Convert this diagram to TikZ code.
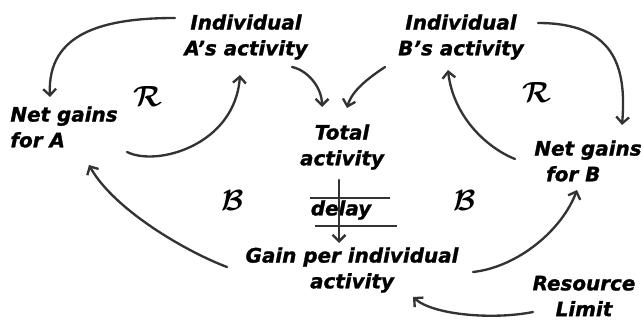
\documentclass[tikz,border=0pt]{standalone}
\usepackage{fontspec}
\setmainfont{DejaVu Sans}[BoldItalicFeatures={FakeBold=1.2}]
\usetikzlibrary{arrows.meta}
\definecolor{ink}{HTML}{333333}
\begin{document}
\begin{tikzpicture}[x=0.03cm,y=0.03cm,
  lbl/.style={inner sep=1pt,align=center,font=\fontsize{17}{22}\selectfont\bfseries\itshape},
  loopmark/.style={inner sep=0pt,font=\fontsize{26}{26}\selectfont\boldmath},
  conn/.style={draw=ink,line width=2pt,line cap=round,-{Straight Barb[length=5.5pt,width=11pt,line width=2pt]}}]
\useasboundingbox (0,0) rectangle (643,-320);
% nodes
\node[lbl] (Aact) at (246,-37) {Individual\\A's activity};
\node[lbl] (Bact) at (461,-37) {Individual\\B's activity};
\node[lbl,align=left,anchor=west] (netA) at (9,-127) {Net gains\\for A};
\node[lbl,align=left,anchor=west] (netB) at (533,-161) {Net gains\\\hspace*{10pt}for B};
\node[lbl] (total) at (342,-147) {Total\\activity};
\node[lbl] (delay) at (341,-210) {delay};
\node[lbl] (gain) at (352,-270) {Gain per individual\\activity};
\node[lbl] (res) at (584,-296) {Resource\\Limit};
\node[loopmark] (RA) at (148,-97) {$\mathcal{R}$};
\node[loopmark] (RB) at (537,-93) {$\mathcal{R}$};
\node[loopmark] (BA) at (233,-201) {$\mathcal{B}$};
\node[loopmark] (BB) at (465,-201) {$\mathcal{B}$};
% delay bars
\draw[ink,line width=1.3pt] ([shift={(-31,12)}]delay.center) -- ([shift={(49,12)}]delay.center);
\draw[ink,line width=1.3pt] ([shift={(-26,-16)}]delay.center) -- ([shift={(56,-16)}]delay.center);
% connectors
\draw[conn] ([shift={(-71,19)}]Aact.center) .. controls +(-70,0) and +(-3,65) .. ([shift={(41,30)}]netA.west);
\draw[conn] ([shift={(118,-25)}]netA.west) .. controls +(30,-15) and +(-5,-70) .. ([shift={(-6,-38)}]Aact.center);
\draw[conn] ([shift={(46,-30)}]Aact.center) .. controls +(15,-3) and +(0,20) .. ([shift={(-20,40)}]total.center);
\draw[conn] ([shift={(-76,-30)}]Bact.center) .. controls +(-15,-10) and +(5,18) .. ([shift={(5,39)}]total.center);
\draw[conn] ([shift={(77,14)}]Bact.center) .. controls +(75,0) and +(5,60) .. ([shift={(89,36)}]netB.west);
\draw[conn] ([shift={(-18,2)}]netB.west) .. controls +(-30,12) and +(5,-45) .. ([shift={(-13,-33)}]Bact.center);
\draw[conn] ([shift={(-3,-33)}]total.center) -- ([shift={(-13,27)}]gain.center);
\draw[conn] ([shift={(-125,3)}]gain.center) .. controls +(-40,15) and +(25,-45) .. ([shift={(80,-38)}]netA.west);
\draw[conn] ([shift={(121,-2)}]gain.center) .. controls +(45,5) and +(-15,-40) .. ([shift={(44,-29)}]netB.west);
\draw[conn] ([shift={(-51,-16)}]res.center) .. controls +(-40,-8) and +(20,-18) .. ([shift={(61,-27)}]gain.center);
\end{tikzpicture}
\end{document}
